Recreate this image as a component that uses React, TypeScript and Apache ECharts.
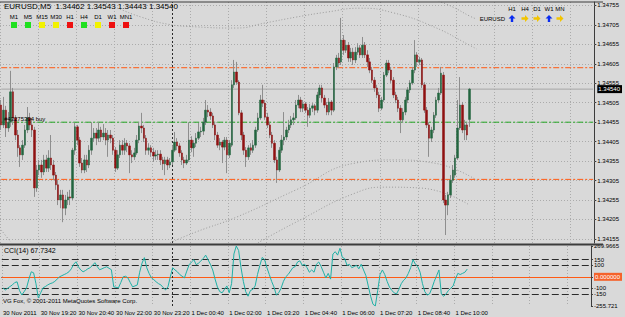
import React, { useEffect, useRef } from "react";
import * as echarts from "echarts";

const FONT = '"Liberation Sans", Arial, sans-serif';
const BG = "#d9d9d9";
const BORDER = "#3c3c3c";
const GRID_C = "#ababab";
const WICK = "#8e8e8e";
const UP = "#23653f";
const DOWN = "#8f1111";
const ORANGE = "#ff5a14";

// ---- axes / labels ----
const timeLabels = [
  "30 Nov 2011", "30 Nov 19:20", "30 Nov 20:40", "30 Nov 22:00", "30 Nov 23:20",
  "1 Dec 00:40", "1 Dec 02:00", "1 Dec 03:20", "1 Dec 04:40", "1 Dec 06:00",
  "1 Dec 07:20", "1 Dec 08:40", "1 Dec 10:00",
];
const LABEL_EVERY = 16;
const SLOT_COUNT = 250;
const DAY_SEPARATOR_BAR = 72;
const PRICE_MIN = 1.341445;
const PRICE_MAX = 1.347639;
const priceTicks = [
  1.34155, 1.34205, 1.34255, 1.34305, 1.34355, 1.34405, 1.34455,
  1.34505, 1.34555, 1.34605, 1.34655, 1.34705, 1.34755,
];
const currentPrice = 1.3454;
const upperOrderLine = 1.34595;
const buyOrderLine = 1.34455;
const lowerOrderLine = 1.34308;
const CCI_MIN = -255.721;
const CCI_MAX = 269.9665;
const cciTicks = [269.9665, 150, 100, 0, -100, -150, -255.721];
const cciLevels = [150, 100, -100, -150];

// ---- EURUSD M5 candles: [open, close, low, high] ----
const candles = [
  [1.34499,1.34448,1.34435,1.34512],[1.34448,1.34486,1.3444,1.3452],[1.34486,1.3444,1.34417,1.34497],
  [1.3444,1.34455,1.3443,1.34481],[1.34455,1.34533,1.34443,1.34587],[1.34533,1.34466,1.34448,1.34543],
  [1.34466,1.34422,1.34409,1.34473],[1.34422,1.34389,1.34366,1.34435],[1.34389,1.34371,1.3434,1.34396],
  [1.34371,1.34396,1.34358,1.34409],[1.34396,1.34435,1.34389,1.34448],[1.34435,1.34466,1.34427,1.34494],
  [1.34466,1.34448,1.34435,1.34479],[1.34448,1.34435,1.34417,1.34466],[1.34435,1.34286,1.34263,1.34443],
  [1.34286,1.34332,1.34276,1.34345],[1.34332,1.34345,1.34319,1.34358],[1.34345,1.34327,1.34312,1.34358],
  [1.34327,1.34358,1.34319,1.34371],[1.34358,1.34337,1.34327,1.34371],[1.34337,1.34363,1.34327,1.34383],
  [1.34363,1.34345,1.34332,1.34422],[1.34345,1.34319,1.34306,1.34358],[1.34319,1.34294,1.34281,1.34327],
  [1.34294,1.34255,1.34242,1.34306],[1.34255,1.34268,1.34234,1.34281],[1.34268,1.34234,1.34198,1.34281],
  [1.34234,1.34255,1.34216,1.34268],[1.34255,1.34263,1.34242,1.34276],[1.34263,1.3426,1.34242,1.34281],
  [1.3426,1.34383,1.34255,1.34389],[1.34383,1.34443,1.34371,1.34453],[1.34443,1.34409,1.34396,1.34448],
  [1.34409,1.3435,1.3434,1.34417],[1.3435,1.34332,1.34324,1.34363],[1.34332,1.34358,1.34324,1.34371],
  [1.34358,1.34345,1.34327,1.34371],[1.34345,1.34383,1.34337,1.34396],[1.34383,1.34414,1.34371,1.34455],
  [1.34414,1.34427,1.34404,1.3444],[1.34427,1.34414,1.34396,1.3444],[1.34414,1.34435,1.34404,1.34455],
  [1.34435,1.34417,1.34404,1.34443],[1.34417,1.34427,1.34409,1.3445],[1.34427,1.34409,1.34396,1.3444],
  [1.34409,1.34422,1.34366,1.34435],[1.34422,1.34414,1.34401,1.34435],[1.34414,1.34383,1.34371,1.34422],
  [1.34383,1.34337,1.34327,1.34391],[1.34337,1.34371,1.34332,1.34383],[1.34371,1.34396,1.34363,1.34409],
  [1.34396,1.34383,1.34371,1.34409],[1.34383,1.34401,1.34371,1.34414],[1.34401,1.34394,1.34378,1.34409],
  [1.34394,1.34371,1.34324,1.34401],[1.34371,1.34366,1.3435,1.34383],[1.34366,1.34376,1.34358,1.34389],
  [1.34376,1.34409,1.34371,1.34422],[1.34409,1.34445,1.34401,1.34455],[1.34445,1.3444,1.34427,1.34479],
  [1.3444,1.34414,1.34404,1.34448],[1.34414,1.34383,1.34371,1.34422],[1.34383,1.34389,1.34371,1.34401],
  [1.34389,1.34378,1.34366,1.34396],[1.34378,1.34368,1.34353,1.34389],[1.34368,1.34371,1.34358,1.34383],
  [1.34371,1.34373,1.34358,1.34383],[1.34373,1.34358,1.34345,1.34383],[1.34358,1.34348,1.34332,1.34366],
  [1.34348,1.34358,1.34319,1.34366],[1.34358,1.34345,1.34332,1.34366],[1.34345,1.34353,1.34337,1.34363],
  [1.34353,1.34383,1.34345,1.34396],[1.34383,1.34404,1.34378,1.3443],[1.34404,1.34394,1.34383,1.34414],
  [1.34394,1.34376,1.34366,1.34401],[1.34376,1.34358,1.34345,1.34383],[1.34358,1.3435,1.34337,1.34366],
  [1.3435,1.34358,1.34345,1.34371],[1.34358,1.34409,1.34353,1.34455],[1.34409,1.34389,1.34378,1.34419],
  [1.34389,1.34401,1.34366,1.34409],[1.34401,1.34414,1.34391,1.34427],[1.34414,1.3443,1.34409,1.34453],
  [1.3443,1.34432,1.34417,1.34443],[1.34432,1.34455,1.34422,1.34466],[1.34455,1.34486,1.34448,1.34512],
  [1.34486,1.34481,1.34468,1.34499],[1.34481,1.34471,1.34461,1.34491],[1.34471,1.34448,1.3444,1.34479],
  [1.34448,1.34422,1.34409,1.34455],[1.34422,1.34396,1.34389,1.3443],[1.34396,1.34404,1.34383,1.34414],
  [1.34404,1.34391,1.3435,1.34409],[1.34391,1.34409,1.34383,1.34417],[1.34409,1.34371,1.34324,1.34417],
  [1.34371,1.34401,1.34363,1.34409],[1.34396,1.34551,1.34391,1.34563],[1.34551,1.34584,1.34543,1.34615],
  [1.34584,1.34558,1.34551,1.3461],[1.34558,1.34479,1.34473,1.34563],[1.34479,1.34422,1.34409,1.34486],
  [1.34422,1.34383,1.34371,1.3443],[1.34383,1.34366,1.3434,1.34391],[1.34366,1.34389,1.34358,1.34396],
  [1.34389,1.34383,1.34371,1.34401],[1.34383,1.34396,1.34376,1.34409],[1.34396,1.34435,1.34389,1.34443],
  [1.34435,1.34466,1.3443,1.34479],[1.34466,1.34512,1.34461,1.34525],[1.34512,1.34504,1.34494,1.34551],
  [1.34504,1.34468,1.34461,1.34512],[1.34468,1.34448,1.3444,1.34479],[1.34448,1.34422,1.34414,1.34455],
  [1.34422,1.34401,1.34389,1.3443],[1.34401,1.34358,1.3435,1.34409],[1.34358,1.34332,1.34299,1.34366],
  [1.34332,1.34383,1.34327,1.34391],[1.34383,1.34409,1.34376,1.34422],[1.34409,1.34417,1.34396,1.34481],
  [1.34417,1.34435,1.34409,1.34443],[1.34435,1.34448,1.34427,1.34461],[1.34448,1.34461,1.3444,1.34471],
  [1.34461,1.34466,1.34448,1.34479],[1.34466,1.34499,1.34461,1.34512],[1.34499,1.34512,1.34491,1.34525],
  [1.34512,1.34491,1.34481,1.3452],[1.34491,1.34502,1.34481,1.34512],[1.34502,1.34486,1.34479,1.34507],
  [1.34486,1.34473,1.34443,1.34494],[1.34473,1.34491,1.34466,1.34502],[1.34491,1.34497,1.34481,1.34504],
  [1.34497,1.34486,1.34473,1.34502],[1.34486,1.34525,1.34479,1.34533],[1.34525,1.34543,1.34517,1.34551],
  [1.34543,1.34517,1.34507,1.34551],[1.34517,1.34499,1.34491,1.34525],[1.34499,1.34481,1.34473,1.34507],
  [1.34481,1.34507,1.34473,1.34517],[1.34507,1.34486,1.34473,1.34512],[1.34486,1.34597,1.34481,1.34607],
  [1.34597,1.3462,1.34589,1.34628],[1.3462,1.34607,1.34594,1.34633],[1.3461,1.34666,1.34602,1.34723],
  [1.34666,1.3464,1.34628,1.34679],[1.3464,1.34653,1.34633,1.34666],[1.34653,1.3462,1.3461,1.34661],
  [1.3462,1.34635,1.3461,1.34646],[1.34635,1.34615,1.34602,1.34646],[1.34615,1.34635,1.34607,1.34648],
  [1.34635,1.34646,1.34628,1.34658],[1.34646,1.34628,1.3462,1.34653],[1.34628,1.34653,1.3462,1.34674],
  [1.34653,1.34628,1.3462,1.34661],[1.34628,1.3461,1.34597,1.3464],[1.3461,1.34589,1.34581,1.3462],
  [1.34589,1.34563,1.34556,1.34597],[1.34563,1.34543,1.34533,1.34571],[1.34543,1.34525,1.34517,1.34551],
  [1.34525,1.34491,1.34481,1.34533],[1.34491,1.34512,1.34486,1.3452],[1.34512,1.34576,1.34507,1.34584],
  [1.34576,1.34607,1.34571,1.34615],[1.34607,1.34589,1.34581,1.34615],[1.34589,1.34563,1.34556,1.34597],
  [1.34563,1.34525,1.34517,1.34571],[1.34525,1.34512,1.34504,1.34533],[1.34512,1.34491,1.34481,1.3452],
  [1.34491,1.34461,1.34427,1.34499],[1.34461,1.34481,1.34453,1.34491],[1.34481,1.34512,1.34473,1.3452],
  [1.34512,1.34538,1.34504,1.34545],[1.34538,1.34556,1.3453,1.34563],[1.34556,1.34589,1.34551,1.34597],
  [1.34589,1.34628,1.34581,1.34666],[1.34628,1.3461,1.34597,1.34635],[1.3461,1.34615,1.34602,1.34623],
  [1.34615,1.34551,1.34543,1.3462],[1.34551,1.34486,1.34479,1.34558],[1.34486,1.34448,1.3444,1.34494],
  [1.34448,1.34414,1.34366,1.34455],[1.34414,1.34435,1.34404,1.34443],[1.34435,1.34473,1.34427,1.34481],
  [1.34473,1.34512,1.34466,1.3452],[1.34512,1.3453,1.34504,1.34543],[1.3453,1.34581,1.34525,1.34597],
  [1.34576,1.34255,1.34247,1.34584],[1.34255,1.34242,1.34165,1.34268],[1.34242,1.34268,1.34216,1.34276],
  [1.34268,1.34306,1.3426,1.34319],[1.34306,1.34332,1.34299,1.34345],[1.34319,1.34363,1.34312,1.34371],
  [1.34363,1.3444,1.34358,1.34512],[1.3444,1.34499,1.34435,1.34571],[1.34499,1.34435,1.34427,1.34507],
  [1.34435,1.34448,1.34409,1.34461],[1.34448,1.34422,1.34409,1.34455],[1.34462,1.3454,1.34443,1.34543],
];

// ---- CCI(14) ----
const cci = [
  -97,-115,-100,-85,-71,-50,-44,-120,-159,-130,-97,-20,44,35,-60,-185,-140,-97,-85,-71,
  -60,-53,-40,-20,0,10,20,30,44,70,110,132,88,60,44,55,70,80,100,124,
  90,62,70,80,88,75,62,-88,-92,-97,-50,0,5,-9,-50,-88,-80,-71,40,120,
  168,80,30,-9,-25,-44,-60,-71,-95,-115,-88,0,80,60,44,20,5,-9,50,106,
  130,150,106,120,140,160,190,150,110,60,-20,-90,-130,-140,-110,-80,-140,-60,200,269.9665,
  230,80,-40,-130,-170,-120,-110,-80,20,100,170,150,80,20,-40,-90,-160,-140,-100,-40,
  0,20,50,80,90,130,140,100,110,80,40,60,40,110,130,90,40,-10,30,-20,
  200,220,190,250,170,160,100,110,80,90,100,70,110,60,10,-80,-170,-240,-255.721,-120,
  20,60,20,-40,-90,-120,-140,-150,-110,-60,-30,-10,30,80,150,110,90,40,-60,-130,
  -160,-150,-100,-40,10,60,-150,-170,-150,-120,-100,-80,-20,30,20,30,40,67.7342,
];

// ---- dotted channel curves: [bar index, price] ----
const upperCurveA = [
  [43,1.34764],[49,1.34748],[59,1.34725],[70,1.34707],[82,1.347],[99,1.34697],[111,1.3471],
  [124,1.34725],[137,1.34738],[151,1.34748],[165,1.34736],[182,1.347],[197,1.34653],[200,1.34643],
];
const upperCurveB = [[184,1.34766],[190,1.34751],[197,1.34728],[200,1.3472]];
const lowerCurveA0 = [[0,1.34178],[4,1.34147]];
const lowerCurveA = [
  [71,1.34145],[82,1.34173],[99,1.34211],[124,1.34281],[149,1.3435],[165,1.34358],[182,1.3435],[200,1.34306],
];
const lowerCurveB = [[108,1.34145],[124,1.34198],[149,1.34273],[162,1.34288],[176,1.34286],[197,1.34242]];

const mtfLabels = ["M1", "M5", "M15", "M30", "H1", "H4", "D1", "W1", "MN1"];
const mtfColors = ["#1fe01f", "#1fe01f", "#f2f200", "#f2f200", "#ee1010", "#1fe01f", "#f2f200", "#ee1010", "#ee1010"];
const trendLabels = ["H1", "H4", "D1", "W1", "MN"];
const trendDirs = ["up", "right", "right", "up", "right"];

function buildOption() {
  const slots = Array.from({ length: SLOT_COUNT }, (_, i) => String(i));
  const bodies = candles.map(([o, c]) => [o, c, Math.min(o, c), Math.max(o, c)]);
  const isGridSlot = (i: number) => i % LABEL_EVERY === 0;
  const isLabelSlot = (i: number) => i % LABEL_EVERY === 0 && i / LABEL_EVERY < timeLabels.length;
  const splitLine = { show: true, interval: (i: number) => isGridSlot(i), lineStyle: { color: GRID_C, type: [1, 2], width: 1 } };
  const noLabel = { show: false };

  const curve = (name: string, data: number[][], extra: any = {}) => ({
    name, type: "line", xAxisIndex: 0, yAxisIndex: 0, data, smooth: 0.5, symbol: "none", silent: true, z: 1,
    lineStyle: { color: "#9b9b9b", type: [1, 2], width: 1 }, ...extra,
  });

  const hLine = (name: string, value: number, color: string, type: any, z: number) => ({
    name, type: "line", xAxisIndex: 0, yAxisIndex: 0, data: [[0, value], [SLOT_COUNT - 1, value]],
    symbol: "none", silent: true, z, lineStyle: { color, type, width: 1 },
  });

  const baseMark = { silent: true, symbol: ["none", "none"], label: noLabel, animation: false, precision: 6 };

  const gridMarks = {
    ...baseMark, z: 1,
    data: [
      ...priceTicks.map((v) => ({ yAxis: v, lineStyle: { color: GRID_C, type: [1, 2], width: 1 } })),
      { xAxis: DAY_SEPARATOR_BAR, lineStyle: { color: "#2a2a2a", type: [2, 2], width: 1 } },
    ],
  };

  const cciMarks = {
    ...baseMark, z: 2,
    data: [
      ...cciLevels.map((v) => ({ yAxis: v, lineStyle: { color: "#2a2a2a", type: [7, 3], width: 1 } })),
      { yAxis: 0, lineStyle: { color: ORANGE, type: "solid", width: 1 } },
      { xAxis: DAY_SEPARATOR_BAR, lineStyle: { color: "#2a2a2a", type: [2, 2], width: 1 } },
    ],
  };

  const txt = (text: string, x: number, y: number, size: number, extra: any = {}) => ({
    type: "text", x, y, silent: true, z: 50,
    style: { text, fill: "#000", font: `${size}px ${FONT}`, verticalAlign: "middle", ...extra },
  });

  const arrow = (cx: number, cy: number, dir: string) => {
    const pts = dir === "up"
      ? [[0, -3.5], [3.5, 0], [1.2, 0], [1.2, 3.5], [-1.2, 3.5], [-1.2, 0], [-3.5, 0]]
      : [[3.5, 0], [0, -3.5], [0, -1.2], [-3.5, -1.2], [-3.5, 1.2], [0, 1.2], [0, 3.5]];
    return {
      type: "polygon", silent: true, z: 50,
      shape: { points: pts.map(([px, py]) => [cx + px, cy + py]) },
      style: { fill: dir === "up" ? "#0a2cf0" : "#f2c400" },
    };
  };

  const mtfX = [14, 28, 42, 56, 70, 84, 98, 112, 126];
  const trendX = [512, 525, 537, 549, 560];

  const graphics: any[] = [
    { type: "line", silent: true, z: 40, shape: { x1: 0, y1: 2, x2: 603, y2: 2 }, style: { stroke: BORDER, lineWidth: 1 } },
    { type: "line", silent: true, z: 40, shape: { x1: 0, y1: 244.5, x2: 603, y2: 244.5 }, style: { stroke: BORDER, lineWidth: 2 } },
    txt("EURUSD,M5  1.34462 1.34543 1.34443 1.34540", 4, 6.5, 8),
    ...mtfLabels.map((t, i) => txt(t, mtfX[i], 16.5, 6, { align: "center" })),
    ...mtfColors.map((c, i) => ({ type: "rect", silent: true, z: 50, shape: { x: mtfX[i] - 3, y: 22, width: 6, height: 6 }, style: { fill: c } })),
    ...trendLabels.map((t, i) => txt(t, trendX[i], 9, 6, { align: "center" })),
    txt("EURUSD", 505, 18.5, 6, { align: "right" }),
    ...trendDirs.map((d, i) => arrow(trendX[i], 18.5, d)),
    txt("#43275394 buy", 4, 118.5, 6),
    txt("CCI(14) 67.7342", 4, 250.7, 7),
    txt("VG Fox, © 2001-2011 MetaQuotes Software Corp.", 3, 300.7, 6),
  ];

  return {
    animation: false,
    backgroundColor: BG,
    textStyle: { fontFamily: FONT },
    grid: [
      { left: 0, top: 2, width: 603, height: 241 },
      { left: 0, top: 246, width: 603, height: 60 },
    ],
    xAxis: [
      {
        type: "category", gridIndex: 0, data: slots, boundaryGap: true,
        axisLine: { show: false }, axisTick: { show: false }, axisLabel: noLabel, splitLine,
      },
      {
        type: "category", gridIndex: 1, data: slots, boundaryGap: true,
        axisLine: { show: true, lineStyle: { color: BORDER } }, axisTick: { show: false },
        axisLabel: {
          show: true, interval: (i: number) => isLabelSlot(i),
          formatter: (_v: string, i: number) => timeLabels[i / LABEL_EVERY] ?? "",
          fontSize: 6, fontFamily: FONT, color: "#000", align: "left", margin: 4,
        },
        splitLine,
      },
    ],
    yAxis: [
      {
        type: "value", gridIndex: 0, position: "right", min: PRICE_MIN, max: PRICE_MAX, scale: true,
        axisLine: { show: true, lineStyle: { color: BORDER } },
        axisTick: { show: true, customValues: priceTicks, length: 2, lineStyle: { color: BORDER } },
        axisLabel: {
          customValues: [...priceTicks, currentPrice], margin: 3, fontSize: 6, fontFamily: FONT, color: "#000",
          formatter: (v: number) => (Math.abs(v - currentPrice) < 1e-9 ? `{cur|${v.toFixed(5)}}` : v.toFixed(5)),
          rich: { cur: { backgroundColor: "#000", color: "#fff", fontSize: 6, fontFamily: FONT, padding: [1, 2, 1, 1] } },
        },
        splitLine: { show: false },
      },
      {
        type: "value", gridIndex: 1, position: "right", min: CCI_MIN, max: CCI_MAX,
        axisLine: { show: true, lineStyle: { color: BORDER } },
        axisTick: { show: true, customValues: cciTicks, length: 2, lineStyle: { color: BORDER } },
        axisLabel: {
          customValues: cciTicks, margin: 3, fontSize: 6, fontFamily: FONT, color: "#000",
          formatter: (v: number) => (v === 0 ? "{z|0.000000}" : String(v)),
          rich: { z: { backgroundColor: "#f5622b", color: "#fff", fontSize: 6, fontFamily: FONT, padding: [1, 2, 1, 1] } },
        },
        splitLine: { show: false },
      },
    ],
    series: [
      curve("upperA", upperCurveA, { markLine: gridMarks }),
      curve("upperB", upperCurveB),
      curve("lowerA0", lowerCurveA0),
      curve("lowerA", lowerCurveA),
      curve("lowerB", lowerCurveB),
      hLine("bid", currentPrice, "#a6a6a6", "solid", 2),
      hLine("orderUpper", upperOrderLine, ORANGE, [6, 2, 2, 2], 2),
      hLine("orderBuy", buyOrderLine, "#22a622", [6, 2, 2, 2], 2),
      hLine("orderLower", lowerOrderLine, ORANGE, [6, 2, 2, 2], 2),
      {
        name: "wick", type: "candlestick", xAxisIndex: 0, yAxisIndex: 0, data: candles, barWidth: 1, silent: true, z: 3,
        itemStyle: { color: WICK, color0: WICK, borderColor: WICK, borderColor0: WICK, borderWidth: 1 },
      },
      {
        name: "body", type: "candlestick", xAxisIndex: 0, yAxisIndex: 0, data: bodies, barWidth: 2, silent: true, z: 4,
        itemStyle: { color: UP, color0: DOWN, borderColor: UP, borderColor0: DOWN, borderWidth: 0.5 },
      },
      {
        name: "CCI", type: "line", xAxisIndex: 1, yAxisIndex: 1, data: cci, symbol: "none", silent: true, z: 3,
        lineStyle: { color: "#1fb0a6", width: 1 }, markLine: cciMarks,
      },
    ],
    graphic: { elements: graphics },
  };
}

export default function App() {
  const ref = useRef<HTMLDivElement>(null);
  useEffect(() => {
    document.body.style.margin = "0";
    const chart = echarts.init(ref.current!, null, { renderer: "svg" });
    chart.setOption(buildOption() as any);
    return () => chart.dispose();
  }, []);
  return <div ref={ref} style={{ width: 625, height: 317, background: BG }} />;
}
